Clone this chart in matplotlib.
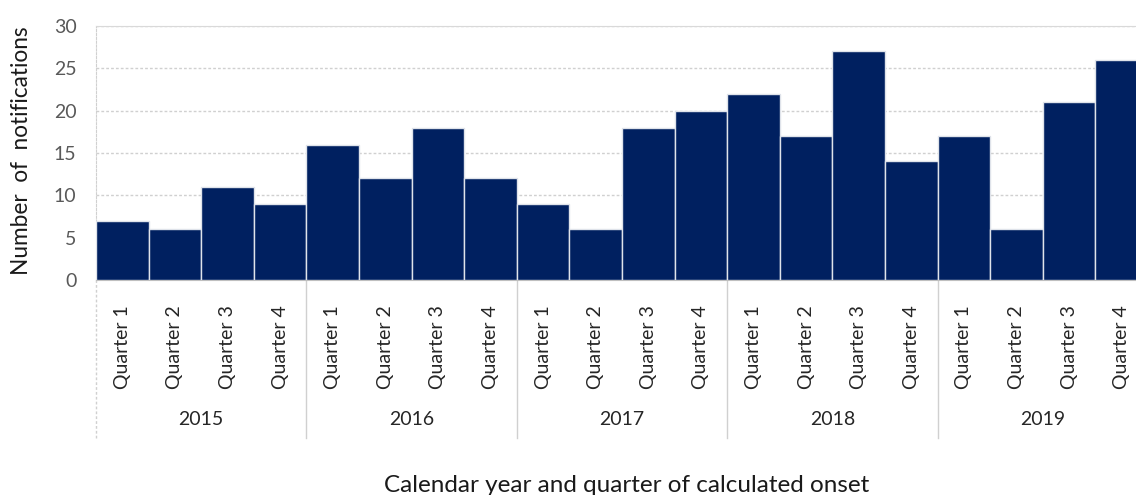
import numpy as np
import matplotlib
matplotlib.use('Agg')
import matplotlib.pyplot as plt

YEARS = ['2015', '2016', '2017', '2018', '2019']
QUARTERS = ['Quarter 1', 'Quarter 2', 'Quarter 3', 'Quarter 4']
COUNTS = [7, 6, 11, 9,
          16, 12, 18, 12,
          9, 6, 18, 20,
          22, 17, 27, 14,
          17, 6, 21, 26]

plt.rcParams['font.family'] = ['Lato', 'DejaVu Sans']

fig = plt.figure(figsize=(11.36, 4.95), dpi=100)
# plot area runs slightly past the right edge of the image, as in the source
ax = fig.add_axes([96/1136, 1-280/495, 1052/1136, 254/495])

x = np.arange(len(COUNTS))
ax.bar(x, COUNTS, width=1.0, color='#002060', edgecolor='#dfe3ea', linewidth=1.0, zorder=3)

ax.set_xlim(-0.5, len(COUNTS)-0.5)
ax.set_ylim(0, 30)
ax.set_yticks(np.arange(0, 31, 5))
ax.tick_params(axis='y', length=0, pad=14, labelsize=14, labelcolor='#595959')
ax.yaxis.grid(True, linestyle=(0, (2, 1.5)), color='#d0d0d0', linewidth=1.0, zorder=0)

ax.set_xticks(x)
ax.set_xticklabels(QUARTERS * len(YEARS), rotation=90, fontsize=14, color='#262626')
ax.tick_params(axis='x', length=0, pad=18)

ax.spines['top'].set_color('#d9d9d9')
ax.spines['right'].set_visible(False)
ax.spines['left'].set_color('#d0d0d0')
ax.spines['left'].set_linestyle((0, (2, 1.5)))
ax.spines['bottom'].set_color('#bfbfbf')

# year group labels and separators under the axis
nq = len(QUARTERS)
for i, yr in enumerate(YEARS):
    ax.text(i*nq + (nq-1)/2, -0.551, yr, transform=ax.get_xaxis_transform(),
            ha='center', va='center', fontsize=14, color='#262626')
    ax.axvline(i*nq - 0.5, ymin=-0.622, ymax=0, color='#d0d0d0', linewidth=1.0,
               linestyle=(0, (2, 1.5)) if i == 0 else '-', clip_on=False)

fig.text(22/1136, 0.695, 'Number  of  notifications', rotation=90, ha='center', va='center',
         fontsize=16.3, color='#1a1a1a')
fig.text(0.552, 0.02, 'Calendar year and quarter of calculated onset', ha='center', va='center',
         fontsize=17.5, color='#1a1a1a')

plt.savefig('out.png', dpi=100)
